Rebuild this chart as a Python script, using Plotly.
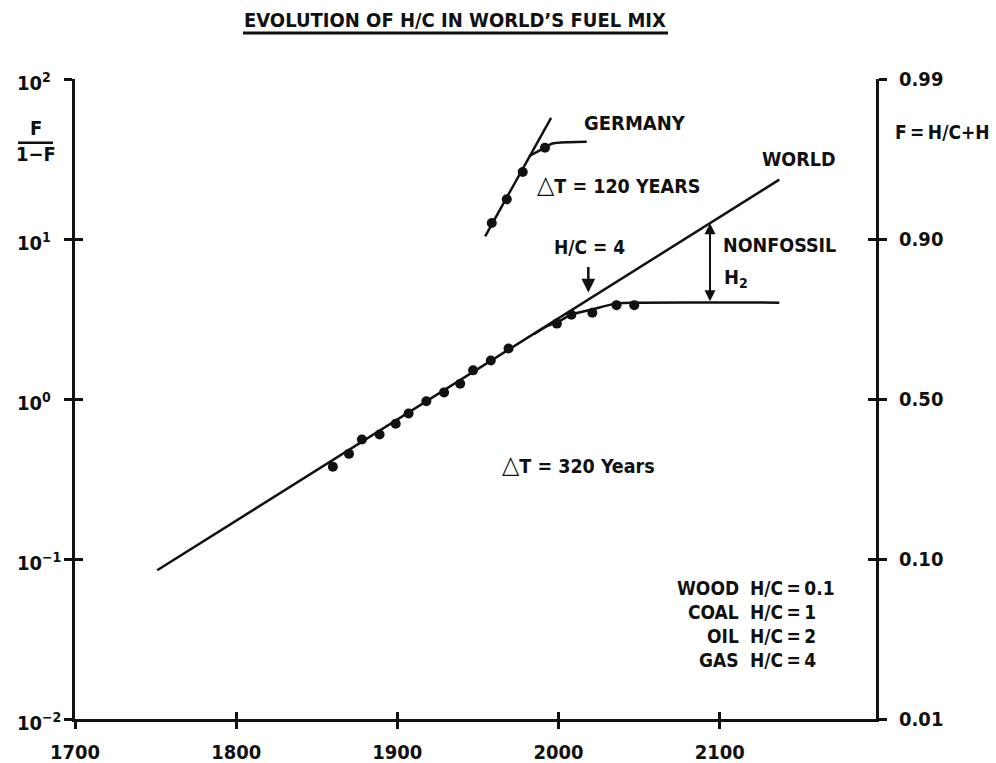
import numpy as np
import plotly.graph_objects as go

# ---------------- data ----------------
world_years = [1860, 1870, 1878, 1889, 1899, 1907, 1918, 1929, 1939, 1947, 1958, 1969,
               1999, 2008, 2021, 2036, 2047]
world_ratio = [0.377, 0.454, 0.558, 0.600, 0.700, 0.812, 0.969, 1.10, 1.245, 1.51, 1.74, 2.07,
               2.96, 3.36, 3.46, 3.86, 3.86]

world_trend_years = [1751, 2137]
world_trend_ratio = [0.085, 23.5]

world_fit_years = [1985, 1993, 2000, 2008, 2021, 2036, 2050, 2137]
world_fit_ratio = [2.55, 2.85, 3.05, 3.36, 3.63, 3.95, 4.0, 4.0]

germany_years = [1958.6, 1967.9, 1977.8, 1991.6]
germany_ratio = [12.6, 17.7, 26.2, 37.2]

germany_trend_years = [1954.5, 1995.4]
germany_trend_ratio = [10.4, 57.2]

germany_fit_years = [1981.7, 1991.6, 1995.8, 2007, 2017.5]
germany_fit_ratio = [32.9, 37.2, 39.4, 40.3, 40.5]

x_tick_vals = [1700, 1800, 1900, 2000, 2100]
x_tick_text = ["1700", "1800", "1900", "2000", "2100"]
y_tick_vals = [0.01, 0.1, 1, 10, 100]
left_tick_text = ["10<sup>\u22122</sup>", "10<sup>\u22121</sup>", "10<sup>0</sup>",
                  "10<sup>1</sup>", "10<sup>2</sup>"]
right_tick_text = ["0.01", "0.10", "0.50", "0.90", "0.99"]

fuel_names = ["WOOD", "COAL", "OIL", "GAS"]
fuel_hc = ["0.1", "1", "2", "4"]

nonfossil_year = 2094
hc4_year = 2018.5

# ---------------- styling ----------------
FAM = "Liberation Sans Narrow, Arial Narrow, DejaVu Sans Condensed, sans-serif"
BLACK = "#111111"
X0, X1 = 1700, 2197
L, R, T, B = 75, 120, 79, 44
W, H = 996, 763
PW, PH = W - L - R, H - T - B
TS = "\u2009"  # thin space
TRI = "<span style='font-size:25px'>\u25b3</span>"


def font(size=20):
    return dict(family=FAM, size=size, color=BLACK, weight="bold")


def paper(px, py):
    return (px - L) / PW, (H - B - py) / PH


def trend_at(year):
    lx = np.log10(world_trend_ratio)
    return float(np.interp(year, world_trend_years, lx))


fig = go.Figure()

line = dict(color=BLACK, width=2.5)
fig.add_trace(go.Scatter(x=world_trend_years, y=world_trend_ratio, mode="lines", line=line))
fig.add_trace(go.Scatter(x=world_fit_years, y=world_fit_ratio, mode="lines",
                         line=dict(color=BLACK, width=2.5, shape="spline", smoothing=0.8)))
fig.add_trace(go.Scatter(x=world_years, y=world_ratio, mode="markers",
                         marker=dict(color=BLACK, size=10)))
fig.add_trace(go.Scatter(x=germany_trend_years, y=germany_trend_ratio, mode="lines", line=line))
fig.add_trace(go.Scatter(x=germany_fit_years, y=germany_fit_ratio, mode="lines",
                         line=dict(color=BLACK, width=2.5, shape="spline", smoothing=0.8)))
fig.add_trace(go.Scatter(x=germany_years, y=germany_ratio, mode="markers",
                         marker=dict(color=BLACK, size=10)))

# invisible anchors so that the overlay axes (crossing ticks, right axis) are drawn
for xa, ya in [("x", "y2"), ("x", "y3"), ("x", "y4"), ("x2", "y")]:
    fig.add_trace(go.Scatter(x=[x_tick_vals[1]], y=[y_tick_vals[2]], xaxis=xa, yaxis=ya,
                             mode="markers", marker=dict(opacity=0, size=1),
                             hoverinfo="skip"))

ann = []


def text(s, px, py, size=20, xanchor="center"):
    x, y = paper(px, py)
    ann.append(dict(text=s, x=x, y=y, xref="paper", yref="paper", showarrow=False,
                    xanchor=xanchor, yanchor="middle", font=font(size)))


text("EVOLUTION OF H/C IN WORLD\u2019S FUEL MIX", 455, 20, 20)
text("F", 35.5, 128, 20)
text("1\u2212F", 35.5, 153.5, 20)
text("F" + TS + "=" + TS + "H/C+H", 942, 131.7, 19)
text("GERMANY", 635, 122.5, 20)
text(TRI + "T = 120 YEARS", 618, 184, 19.5)
text("WORLD", 799, 159, 19.5)
text("H/C = 4", 589, 246.5, 19)
text("NONFOSSIL", 721, 245.7, 19.5, "left")
text("H<sub>2</sub>", 722, 278, 20, "left")
text(TRI + "T = 320 Years", 578, 464, 19.5)

fuel_y0 = 588
for i, (n, v) in enumerate(zip(fuel_names, fuel_hc)):
    text(n, 741, fuel_y0 + 24 * i, 19, "right")
    text("H/C" + TS + "=" + TS + v, 748, fuel_y0 + 24 * i, 19, "left")

# left tick labels (left aligned, as in the reference)
for v, t in zip(y_tick_vals, left_tick_text):
    ann.append(dict(text=t, x=(15 - L) / PW, y=np.log10(v), xref="paper", yref="y",
                    showarrow=False, xanchor="left", yanchor="middle", yshift=-3,
                    font=font(20)))

# H/C = 4 arrow
ann.append(dict(text="", x=hc4_year, y=trend_at(hc4_year), xref="x", yref="y",
                showarrow=True, ax=0, ay=-34, arrowhead=2, arrowsize=1.1, arrowwidth=2.5,
                arrowcolor=BLACK, standoff=7))
# nonfossil double arrow
ann.append(dict(text="", x=nonfossil_year, y=trend_at(nonfossil_year), xref="x", yref="y",
                showarrow=True, axref="x", ayref="y", ax=nonfossil_year,
                ay=np.log10(world_fit_ratio[-1]), arrowhead=2, startarrowhead=2,
                arrowside="end+start", arrowsize=1.1, startarrowsize=1.1, arrowwidth=2,
                arrowcolor=BLACK))

shapes = [
    dict(type="line", xref="paper", yref="paper",
         x0=paper(243, 0)[0], x1=paper(668, 0)[0], y0=paper(0, 33)[1], y1=paper(0, 33)[1],
         line=dict(color=BLACK, width=3)),
    dict(type="line", xref="paper", yref="paper",
         x0=paper(18, 0)[0], x1=paper(53, 0)[0], y0=paper(0, 142.7)[1], y1=paper(0, 142.7)[1],
         line=dict(color=BLACK, width=2.5)),
]

common_y = dict(type="log", range=[-2, 2], tickvals=y_tick_vals, showgrid=False,
                zeroline=False, tickcolor=BLACK, tickwidth=2.5)

fig.update_layout(
    width=W, height=H, margin=dict(l=L, r=R, t=T, b=B, autoexpand=False),
    paper_bgcolor="white", plot_bgcolor="white", showlegend=False,
    font=font(20),
    xaxis=dict(range=[X0, X1], tickvals=x_tick_vals, ticktext=x_tick_text, ticks="outside",
               ticklen=7, tickwidth=2.5, tickcolor=BLACK, showline=True, linewidth=3,
               linecolor=BLACK, showgrid=False, zeroline=False, tickfont=font(20),
               ticklabelstandoff=6),
    xaxis2=dict(range=[X0, X1], tickvals=x_tick_vals, ticks="inside", ticklen=7,
                tickwidth=2.5, tickcolor=BLACK, showticklabels=False, showline=False,
                showgrid=False, zeroline=False, overlaying="x", anchor="y"),
    yaxis=dict(**common_y, ticks="outside", ticklen=8, showticklabels=False, showline=True,
               linewidth=3, linecolor=BLACK),
    yaxis2=dict(**common_y, ticks="outside", ticklen=8, ticktext=right_tick_text,
                overlaying="y", side="right", showline=True, linewidth=3, linecolor=BLACK,
                tickfont=font(20), ticklabelstandoff=8, anchor="x"),
    yaxis3=dict(**common_y, ticks="inside", ticklen=8, showticklabels=False,
                overlaying="y", side="left", showline=False, anchor="x"),
    yaxis4=dict(**common_y, ticks="inside", ticklen=8, showticklabels=False,
                overlaying="y", side="right", showline=False, anchor="x"),
    annotations=ann, shapes=shapes,
)

fig.write_html("out.html", config={"displayModeBar": False},
               post_script="document.body.style.margin='0';"
                           "document.body.style.overflow='hidden';")
